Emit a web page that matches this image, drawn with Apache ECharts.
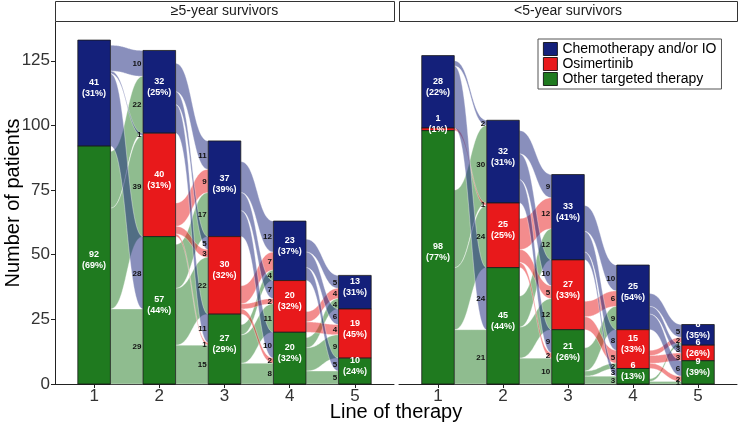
<!DOCTYPE html>
<html><head><meta charset="utf-8">
<script src="https://cdn.jsdelivr.net/npm/echarts@6/dist/echarts.min.js"></script>
<style>html,body{margin:0;padding:0;background:#fff}#c{width:738px;height:425px}</style>
</head><body><div id="c"></div>
<script>
// ---------- data ----------
const categories = ["Chemotherapy and/or IO", "Osimertinib", "Other targeted therapy"];
const lines = [1, 2, 3, 4, 5];
const xTickValues = [1, 2, 3, 4, 5];
const yTickValues = [0, 25, 50, 75, 100, 125];
const panelTitles = ["≥5-year survivors", "<5-year survivors"];
const xTitle = "Line of therapy";
const yTitle = "Number of patients";

// ≥5-year survivors: patients per line of therapy
const longChemo = [41, 32, 37, 23, 13];
const longOsi   = [0, 40, 30, 20, 19];
const longOther = [92, 57, 27, 20, 10];
// <5-year survivors
const shortChemo = [28, 32, 33, 25, 8];
const shortOsi   = [1, 25, 27, 15, 6];
const shortOther = [98, 45, 21, 6, 9];

// flows: [from line, from category, to category, patients]  (0 chemo, 1 osi, 2 other)
const longFlows = [
  [1,0,0,10],[1,2,0,22],[1,0,1,1],[1,2,1,39],[1,0,2,28],[1,2,2,29],
  [2,0,0,11],[2,1,0,9],[2,2,0,17],[2,0,1,5],[2,1,1,3],[2,2,1,22],[2,0,2,11],[2,1,2,1],[2,2,2,15],
  [3,0,0,12],[3,1,0,7],[3,2,0,4],[3,0,1,7],[3,1,1,2],[3,2,1,11],[3,0,2,10],[3,1,2,2],[3,2,2,8],
  [4,0,0,5],[4,1,0,4],[4,2,0,4],[4,0,1,6],[4,1,1,4],[4,2,1,9],[4,0,2,5],[4,2,2,5]
];
const shortFlows = [
  [1,0,0,2],[1,2,0,30],[1,1,1,1],[1,2,1,24],[1,0,2,24],[1,2,2,21],
  [2,0,0,9],[2,1,0,12],[2,2,0,12],[2,0,1,10],[2,1,1,5],[2,2,1,12],[2,0,2,9],[2,1,2,2],[2,2,2,10],
  [3,0,0,10],[3,1,0,6],[3,2,0,9],[3,0,1,8],[3,1,1,5],[3,2,1,2],[3,0,2,3],[3,2,2,3],
  [4,0,0,5],[4,1,0,2],[4,2,0,1],[4,0,1,3],[4,1,1,3],[4,0,2,6],[4,1,2,2],[4,2,2,1]
];

// ---------- style ----------
const colors = ["#14207a", "#e8191b", "#1f7a1f"];
const FONT = '"Liberation Sans", Arial, Helvetica, sans-serif';
const BW = 0.5;
function rgba(hex, a) {
  const n = parseInt(hex.slice(1), 16);
  return `rgba(${(n >> 16) & 255},${(n >> 8) & 255},${n & 255},${a})`;
}

// ---------- layout helpers ----------
function stackBlocks(counts) {
  return lines.map((ln, i) => {
    const b = []; let y = 0;
    for (let c = categories.length - 1; c >= 0; c--) { b[c] = [y, y + counts[c][i]]; y += counts[c][i]; }
    return b;
  });
}
function flowLayout(blocks, flows) {
  return flows.map(f => {
    const [from, sc, dc, v] = f;
    const i = lines.indexOf(from);
    const s0 = blocks[i][sc][0] + flows.filter(g => g[0] === from && g[1] === sc && g[2] > dc).reduce((a, g) => a + g[3], 0);
    const d0 = blocks[i + 1][dc][0] + flows.filter(g => g[0] === from && g[2] === dc && g[1] > sc).reduce((a, g) => a + g[3], 0);
    return [from, lines[i + 1], s0, s0 + v, d0, d0 + v, sc, v];
  });
}

function flowRender(params, api) {
  const x0 = api.value(0) + BW / 2, x1 = api.value(1) - BW / 2;
  const a0 = api.coord([x0, api.value(2)]), a1 = api.coord([x0, api.value(3)]);
  const b0 = api.coord([x1, api.value(4)]), b1 = api.coord([x1, api.value(5)]);
  const bez = (p, q, t) => {
    const k = 0.5 * (q[0] - p[0]), mt = 1 - t;
    return [mt*mt*mt*p[0] + 3*mt*mt*t*(p[0]+k) + 3*mt*t*t*(q[0]-k) + t*t*t*q[0],
            mt*mt*mt*p[1] + 3*mt*mt*t*p[1] + 3*mt*t*t*q[1] + t*t*t*q[1]];
  };
  const N = 40, pts = [];
  for (let j = 0; j <= N; j++) pts.push(bez(a1, b1, j / N));
  for (let j = N; j >= 0; j--) pts.push(bez(a0, b0, j / N));
  return { type: 'polygon', shape: { points: pts },
    style: { fill: rgba(colors[api.value(6)], 0.5), stroke: 'rgba(255,255,255,0.7)', lineWidth: 0.5 } };
}
function flowLabelRender(params, api) {
  const p = api.coord([api.value(1) - BW / 2, (api.value(4) + api.value(5)) / 2]);
  return { type: 'text', style: { text: String(api.value(7)), x: p[0] - 1.5, y: p[1] + 0.5,
    align: 'right', verticalAlign: 'middle', font: 'bold 8px ' + FONT, fill: '#111' } };
}
function barRender(c) {
  return function (params, api) {
    const x = api.value(0);
    const p0 = api.coord([x - BW / 2, api.value(2)]);
    const p1 = api.coord([x + BW / 2, api.value(1)]);
    const cx = (p0[0] + p1[0]) / 2, cy = (p0[1] + p1[1]) / 2;
    return { type: 'group', children: [
      { type: 'rect', shape: { x: p0[0], y: p0[1], width: p1[0] - p0[0], height: p1[1] - p0[1] },
        style: { fill: colors[c], stroke: '#1a1a1a', lineWidth: 0.8 } },
      { type: 'text', z2: 5, style: { text: api.value(3) + '\n(' + api.value(4) + '%)', x: cx, y: cy - 5,
        align: 'center', verticalAlign: 'middle', font: 'bold 9px ' + FONT, lineHeight: 11, fill: '#fff' } }
    ] };
  };
}

const panelsData = [
  { counts: [longChemo, longOsi, longOther], flows: longFlows },
  { counts: [shortChemo, shortOsi, shortOther], flows: shortFlows }
];

const grids = [
  { left: 55, width: 339, top: 22, bottom: 41 },
  { left: 399, width: 338, top: 22, bottom: 41 }
];
const axisLineStyle = { color: '#222', width: 1 };
const xAxes = grids.map((g, p) => ({
  type: 'value', gridIndex: p, min: 0.4, max: 5.6,
  axisLine: { show: true, onZero: false, lineStyle: axisLineStyle },
  axisTick: { show: true, length: 4, lineStyle: axisLineStyle, customValues: xTickValues },
  axisLabel: { show: true, customValues: xTickValues, margin: 4, fontSize: 17, color: '#333', fontFamily: FONT,
    formatter: v => String(v) },
  splitLine: { show: false }
}));
const yAxes = grids.map((g, p) => ({
  type: 'value', gridIndex: p, min: 0, max: 140,
  axisLine: { show: p === 0, lineStyle: axisLineStyle },
  axisTick: { show: p === 0, length: 4, lineStyle: axisLineStyle, customValues: yTickValues },
  axisLabel: { show: p === 0, customValues: yTickValues, margin: 5, fontSize: 17, color: '#333', fontFamily: FONT },
  splitLine: { show: false }
}));

const series = [];
panelsData.forEach((pd, p) => {
  const blocks = stackBlocks(pd.counts);
  const fl = flowLayout(blocks, pd.flows);
  series.push({ type: 'custom', xAxisIndex: p, yAxisIndex: p, z: 1, silent: true,
    renderItem: flowRender, data: fl });
  categories.forEach((name, c) => {
    const data = [];
    lines.forEach((ln, i) => {
      const n = pd.counts[c][i];
      const total = pd.counts.reduce((a, arr) => a + arr[i], 0);
      if (n > 0) data.push([ln, blocks[i][c][0], blocks[i][c][1], n, Math.round(n / total * 100)]);
    });
    series.push({ type: 'custom', name: name, xAxisIndex: p, yAxisIndex: p, z: 2, silent: true,
      itemStyle: { color: colors[c] }, renderItem: barRender(c), data: data });
  });
  series.push({ type: 'custom', xAxisIndex: p, yAxisIndex: p, z: 3, silent: true,
    renderItem: flowLabelRender, data: fl });
});

const graphic = [];
panelTitles.forEach((t, p) => {
  const g = grids[p];
  graphic.push({ type: 'rect', left: g.left, top: 1, shape: { width: g.width, height: 20 },
    style: { fill: '#fff', stroke: '#333', lineWidth: 1 } });
  graphic.push({ type: 'text', x: g.left + g.width / 2, y: 11,
    style: { text: t, align: 'center', verticalAlign: 'middle', font: '14px ' + FONT, fill: '#1a1a1a' } });
});
graphic.push({ type: 'text', x: 396, y: 412,
  style: { text: xTitle, align: 'center', verticalAlign: 'middle', font: '20px ' + FONT, fill: '#000' } });
graphic.push({ type: 'text', x: 13, y: 203, rotation: Math.PI / 2,
  style: { text: yTitle, align: 'center', verticalAlign: 'middle', font: '20px ' + FONT, fill: '#000' } });

const chart = echarts.init(document.getElementById('c'), null, { renderer: 'canvas' });
chart.setOption({
  animation: false,
  backgroundColor: '#fff',
  grid: grids,
  xAxis: xAxes,
  yAxis: yAxes,
  legend: {
    orient: 'vertical', left: 538, top: 39, itemWidth: 14, itemHeight: 13, itemGap: 1,
    padding: [3, 5, 3, 5], borderColor: '#555', borderWidth: 1, backgroundColor: '#fff',
    selectedMode: false,
    textStyle: { fontSize: 14, color: '#000', fontFamily: FONT, lineHeight: 13 },
    data: categories.map((n, i) => ({ name: n, icon: 'rect',
      itemStyle: { color: colors[i], borderColor: '#000', borderWidth: 0.8 } }))
  },
  graphic: graphic,
  series: series
});
</script>
</body></html>
